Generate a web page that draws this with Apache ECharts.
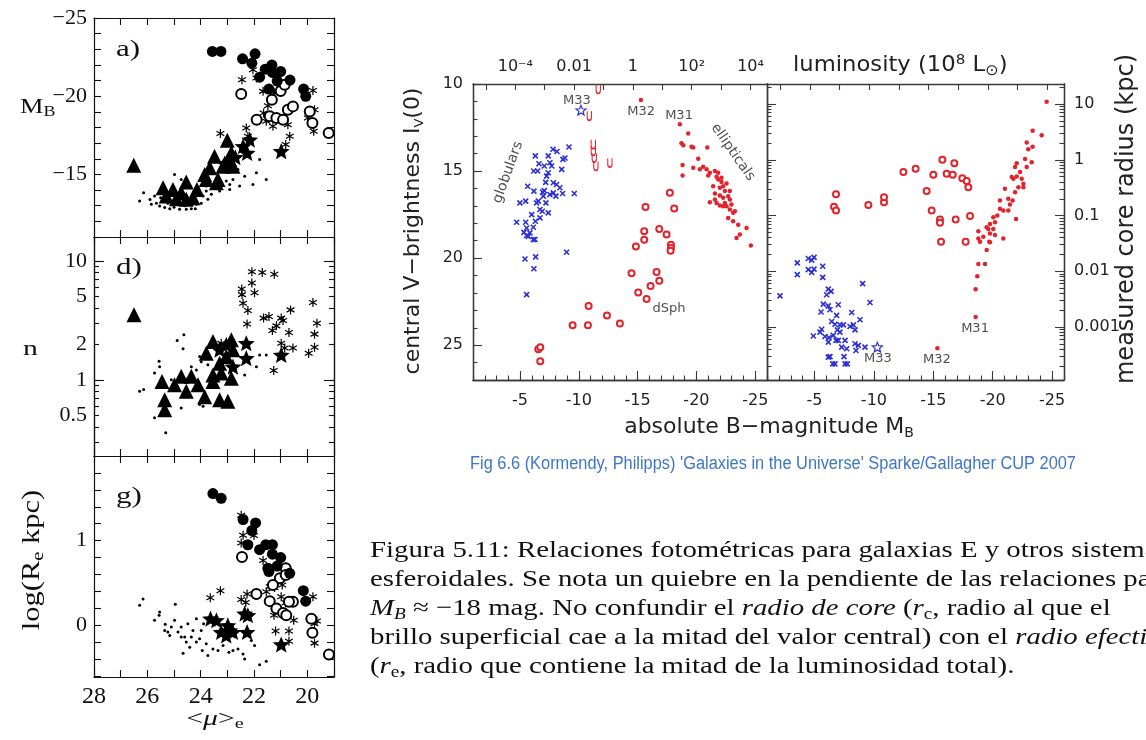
<!DOCTYPE html>
<html>
<head>
<meta charset="utf-8">
<script src="https://cdn.jsdelivr.net/npm/echarts@6.0.0/dist/echarts.min.js"></script>
<style>
html,body{margin:0;padding:0;background:#ffffff;}
#chart{width:1146px;height:740px;}
</style>
</head>
<body>
<div id="chart"></div>
<script>
// ================= LEFT FIGURE: relations vs <mu>_e =================
const muTicks = [19,20,21,22,23,24,25,26,27,28];
const muLabels = [20,22,24,26,28];
const mbTicks = [-25,-24,-23,-22,-21,-20,-19,-18,-17,-16,-15,-14,-13,-12,-11];
const mbLabels = [-25,-20,-15];
const nTicks = [0.3,0.4,0.5,0.6,0.7,0.8,0.9,1,2,3,4,5,6,7,8,9,10];
const nMajor = [1,10];
const nLabels = [0.5,1,2,5,10];
const reTicks = [-0.6,-0.4,-0.2,0,0.2,0.4,0.6,0.8,1,1.2,1.4,1.6,1.8];
const reLabels = [0,1];

// panel a) : [<mu>_e, M_B]
const aFilledCircle = [[23.56,-22.86],[23.24,-22.86],[22.43,-22.39],[21.96,-22.71],[22.08,-22.11],[21.58,-21.73],[21.33,-22.0],[21.31,-21.52],[21.0,-21.58],[21.13,-20.97],[20.65,-21.03],[21.79,-21.22],[21.44,-20.46],[20.14,-20.46],[20.06,-19.99]];
const aOpenCircle = [[22.48,-20.14],[21.9,-18.5],[21.33,-19.78],[21.0,-20.33],[20.85,-20.73],[21.41,-18.72],[21.16,-18.61],[20.91,-18.5],[20.73,-19.14],[20.54,-19.35],[19.91,-19.03],[19.81,-18.29],[19.2,-17.65]];
const aAsterisk = [[22.45,-21.05],[22.04,-21.69],[21.91,-21.16],[21.66,-20.31],[21.48,-19.39],[21.64,-18.93],[21.54,-18.4],[21.29,-18.08],[20.73,-18.18],[20.66,-17.44],[20.81,-16.91],[19.79,-20.37],[19.73,-19.14],[19.98,-18.61],[19.76,-17.76],[23.26,-17.61],[22.29,-17.97],[22.23,-17.44],[22.35,-16.7],[21.23,-20.2]];
const aStar = [[22.41,-16.8],[22.16,-17.23],[22.26,-16.38],[20.98,-16.49],[22.7,-16.1],[23.1,-15.7]];
const aTriangle = [[26.51,-15.59],[23.0,-17.19],[23.85,-15.0],[23.66,-15.42],[23.48,-16.17],[23.35,-14.68],[23.41,-14.47],[23.16,-15.53],[22.91,-15.96],[22.85,-16.38],[22.79,-15.53],[23.79,-14.68],[25.41,-14.15],[25.04,-14.04],[24.54,-14.51],[24.14,-14.04],[25.29,-13.62],[24.91,-13.45],[24.54,-13.41],[24.73,-13.83],[24.29,-13.51]];
const aDot = [[26.29,-13.3],[26.14,-13.83],[25.73,-13.62],[25.66,-13.15],[25.54,-12.98],[25.35,-12.88],[25.16,-12.81],[24.98,-15.0],[24.79,-12.77],[24.54,-12.77],[24.35,-12.81],[24.16,-13.09],[23.98,-13.15],[24.04,-13.83],[23.79,-13.94],[23.6,-13.73],[23.73,-13.41],[23.41,-14.26],[23.04,-14.58],[22.79,-14.68],[22.6,-15.32],[22.29,-16.17],[21.91,-15.11],[21.79,-15.96],[21.54,-14.68],[22.04,-14.36],[22.54,-14.26],[22.35,-14.89],[22.91,-14.36],[24.73,-14.68],[24.41,-14.26],[25.85,-13.09],[25.5,-13.51],[25.23,-13.15],[23.79,-14.26],[23.29,-13.94],[22.91,-14.04],[23.91,-13.62],[25.0,-12.9],[24.6,-13.0],[24.2,-12.8],[25.9,-13.4],[24.9,-13.2]];

// panel d) : [<mu>_e, n]
const dTriangle = [[26.5,3.52],[25.45,0.97],[25.35,0.68],[25.35,0.56],[24.98,0.91],[24.73,1.07],[24.54,0.80],[24.35,1.07],[24.1,0.91],[23.85,0.72],[23.54,1.10],[23.54,2.1],[23.29,0.68],[22.98,0.66],[22.85,2.17],[22.85,1.03],[23.79,1.67],[23.29,1.38],[23.04,1.57],[23.54,0.97],[22.79,1.79],[23.23,1.14]];
const dStar = [[22.29,2.03],[22.29,1.52],[20.98,1.62],[23.04,1.97],[22.79,1.29],[23.29,1.79]];
const dAsterisk = [[22.08,8.1],[21.69,7.96],[21.24,7.7],[22.08,6.5],[22.46,5.8],[21.98,5.4],[22.45,5.2],[22.41,4.4],[22.23,3.83],[22.26,2.94],[21.64,3.3],[21.44,3.4],[20.98,3.3],[20.91,3.15],[21.16,2.84],[21.31,2.6],[20.63,3.87],[20.69,2.5],[20.98,2.03],[20.85,1.85],[20.54,1.85],[19.79,4.47],[19.64,2.99],[19.73,2.42],[19.73,1.88],[19.95,1.67],[21.26,1.2],[23.23,2.03]];
const dDot = [[26.29,0.80],[26.14,0.83],[25.73,0.48],[25.31,0.36],[25.56,1.43],[25.54,1.29],[25.73,1.14],[24.88,2.14],[24.63,2.39],[24.66,1.82],[24.73,0.58],[24.35,1.29],[24.04,1.57],[23.91,0.6],[24.04,0.62],[21.91,1.29],[21.79,1.62],[21.54,1.62],[22.35,1.10],[24.16,1.21],[23.73,1.34],[24.48,1.03],[25.1,1.0],[23.98,1.42]];

// panel g) : [<mu>_e, log(Re/kpc)]
const gFilledCircle = [[23.54,1.556],[23.23,1.5],[22.41,1.25],[21.94,1.21],[22.08,1.12],[22.23,0.952],[21.79,0.893],[21.56,0.952],[21.31,0.952],[21.31,0.841],[21.0,0.80],[21.13,0.70],[21.48,0.675],[21.44,0.635],[20.66,0.615],[20.15,0.409],[20.06,0.286]];
const gOpenCircle = [[22.45,0.806],[21.91,0.369],[21.41,0.286],[21.16,0.198],[20.91,0.147],[20.79,0.119],[20.54,0.278],[20.81,0.675],[21.03,0.556],[21.29,0.476],[19.85,0.079],[19.81,-0.087],[19.19,-0.345],[20.81,0.595],[20.69,0.278]];
const gAsterisk = [[22.48,1.3],[22.41,1.063],[22.0,1.06],[22.48,0.972],[21.66,0.766],[21.41,0.456],[21.23,0.448],[20.94,0.476],[20.98,0.337],[20.81,0.266],[21.25,0.119],[21.19,-0.067],[20.69,-0.067],[20.69,-0.187],[20.51,0.06],[19.79,0.337],[19.73,0.02],[19.64,0.052],[19.73,-0.21],[23.64,0.325],[23.26,0.409],[22.48,0.306],[22.26,0.369],[22.31,0.27],[21.54,0.397]];
const gStar = [[23.63,0.079],[23.41,0.06],[23.23,-0.079],[22.98,0.0],[22.91,-0.06],[22.79,-0.079],[22.35,0.139],[22.23,0.119],[22.26,-0.079],[20.98,-0.226],[23.04,-0.12]];
const gDot = [[26.29,0.238],[26.16,0.31],[25.73,0.06],[25.54,0.159],[25.56,0.119],[25.33,0.012],[25.23,-0.079],[25.1,-0.02],[24.98,0.06],[24.95,0.25],[24.85,-0.079],[24.73,-0.02],[24.66,-0.329],[24.6,-0.139],[24.48,0.02],[24.41,-0.258],[24.29,-0.06],[24.16,0.079],[24.04,-0.159],[23.94,-0.298],[23.79,-0.218],[23.73,-0.357],[23.54,-0.278],[23.35,-0.298],[23.16,-0.238],[22.94,-0.317],[22.79,-0.298],[22.6,-0.278],[22.41,-0.337],[22.35,-0.397],[22.1,-0.179],[21.98,-0.238],[21.54,-0.425],[21.79,-0.464],[24.73,-0.139],[24.54,-0.198],[24.35,-0.139],[25.16,-0.119],[25.35,-0.06],[24.16,-0.198],[23.98,-0.06],[23.89,0.02]];

// ================= RIGHT FIGURE (Kormendy) =================
const mbMajor = [-25,-20,-15,-10,-5];
const mbMinor = [-26,-25,-24,-23,-22,-21,-20,-19,-18,-17,-16,-15,-14,-13,-12,-11,-10,-9,-8,-7,-6,-5,-4,-3,-2,-1];
const lumTicks = [-5,-4,-3,-2,-1,0,1,2,3,4];
const lumLabelPos = [-4,-2,0,2,4];
const lumLabelText = ['10\u207B\u2074','0.01','1','10\u00B2','10\u2074'];
const ivMajor = [10,15,20,25];
const ivMinor = [10,11,12,13,14,15,16,17,18,19,20,21,22,23,24,25,26,27];
const rcMajor = [0.001,0.01,0.1,1,10];

// left panel: [M_B, central V brightness]
const glob1 = [[-4.71,17.94],[-5.48,17.94],[-5.56,18.27],[-5.70,18.75],[-5.33,18.52],[-6.13,18.23],[-6.13,18.94],[-6.30,17.88],[-5.99,17.5],[-6.69,17.21],[-7.40,17.4],[-7.20,16.83],[-6.41,16.83],[-6.98,16.44],[-6.55,16.73],[-6.92,16.21],[-7.06,16.12],[-7.54,16.35],[-7.83,16.25],[-8.05,16.44],[-8.39,15.96],[-8.62,16.29],[-8.11,15.77],[-7.26,15.29],[-7.40,15.1],[-7.06,14.71],[-7.69,14.71],[-7.54,14.52],[-7.40,14.13],[-7.80,13.75],[-8.65,14.33],[-8.82,14.25],[-8.54,14.9],[-6.18,16.15],[-5.65,15.87],[-5.48,16.73],[-4.99,16.83],[-6.30,14.13],[-6.16,15.0],[-6.50,15.0],[-6.61,14.58],[-7.18,15.65],[-7.83,15.67],[-6.69,17.69],[-6.89,17.31],[-8.14,13.88],[-9.16,13.62],[-9.61,16.29],[-5.42,20.05],[-6.33,19.93],[-6.18,20.61],[-5.56,22.1],[-8.96,19.66],[-5.56,18.7],[-5.84,18.55],[-6.27,18.93]];
const sc1U = [[-11.65,10.29],[-10.89,11.83],[-11.23,13.46],[-11.23,13.85],[-11.31,14.23],[-11.45,14.71],[-12.64,14.52]];
const ell1 = [[-18.59,12.31],[-15.28,10.92],[-18.73,13.4],[-18.88,13.52],[-19.3,12.85],[-19.58,13.6],[-19.73,13.65],[-20.92,13.65],[-18.82,14.65],[-18.82,15.25],[-19.73,14.81],[-20.15,14.29],[-20.29,14.9],[-20.57,14.75],[-20.86,14.9],[-21.14,15.1],[-21.0,15.25],[-21.57,15.0],[-21.71,15.33],[-21.85,15.48],[-22.13,15.63],[-22.27,15.87],[-22.42,16.15],[-22.56,15.71],[-21.99,15.96],[-21.42,15.87],[-21.57,16.29],[-21.99,16.4],[-22.27,16.54],[-22.7,16.44],[-21.14,16.79],[-21.71,16.83],[-21.99,16.98],[-22.27,17.02],[-22.84,16.63],[-22.98,16.92],[-23.12,17.4],[-23.27,17.31],[-22.56,17.02],[-22.7,17.69],[-23.12,17.88],[-23.55,18.08],[-23.69,18.65],[-24.26,18.27],[-24.63,19.27],[-23.41,18.85],[-21.85,15.1],[-22.13,15.38],[-22.84,16.15],[-22.42,16.83],[-22.84,17.21],[-21.57,16.63]];
const dsph1 = [[-15.67,17.06],[-18.11,17.15],[-17.74,16.25],[-15.56,18.46],[-15.56,18.94],[-16.84,18.33],[-17.46,18.65],[-14.85,19.33],[-17.83,19.23],[-17.83,19.42],[-17.8,19.58],[-14.48,20.87],[-15.05,21.97],[-15.76,22.35],[-16.1,21.6],[-16.61,20.8],[-16.84,21.3],[-10.83,22.75],[-12.39,23.3],[-9.47,23.86],[-10.77,23.86],[-13.49,23.75],[-6.55,25.23],[-6.72,25.12],[-6.72,25.92]];
const m33a = [[-10.18,11.5]];
const notes1 = [[-9.84,10.98,'M33',0],[-15.29,11.61,'M32',0],[-18.52,11.79,'M31',0],[-3.98,15.07,'globulars',70],[-23.1,13.92,'ellipticals',-55],[-17.67,22.91,'dSph',0]];

// right panel: [M_B, log10(core radius / kpc)]
const glob2 = [[-3.55,-1.85],[-4.48,-1.77],[-4.76,-1.8],[-4.96,-1.75],[-5.69,-1.91],[-2.09,-2.44],[-3.55,-2.06],[-4.48,-1.97],[-4.76,-2.02],[-4.96,-1.96],[-5.69,-2.11],[-6.16,-2.32],[-6.39,-2.36],[-6.02,-2.42],[-5.74,-2.59],[-6.16,-2.62],[-5.55,-2.73],[-6.3,-2.69],[-7.0,-2.6],[-6.86,-2.79],[-6.44,-2.9],[-6.72,-2.95],[-7.14,-2.96],[-6.92,-3.05],[-5.6,-3.04],[-5.46,-3.09],[-4.9,-3.16],[-5.88,-3.17],[-6.22,-3.19],[-6.58,-3.15],[-7.14,-3.09],[-7.43,-2.96],[-7.99,-2.99],[-8.13,-2.74],[-8.27,-2.96],[-8.83,-2.87],[-8.41,-3.05],[-7.0,-3.24],[-7.29,-3.36],[-7.71,-3.39],[-7.57,-3.24],[-8.41,-3.3],[-8.69,-3.33],[-8.49,-3.42],[-9.25,-3.36],[-6.3,-3.53],[-6.16,-3.54],[-6.53,-3.66],[-6.72,-3.66],[-7.57,-3.66],[-7.76,-3.66],[-7.48,-3.53],[-9.05,-2.22],[-9.67,-2.56],[-6.81,-3.24],[-6.16,-3.27]];
const ell2 = [[-24.54,1.04],[-23.36,0.52],[-24.12,0.44],[-22.86,0.31],[-23.36,0.235],[-22.99,0.19],[-22.72,0.015],[-23.28,-0.045],[-22.86,-0.13],[-22.02,-0.06],[-21.88,-0.13],[-21.6,-0.31],[-22.02,-0.3],[-22.44,-0.34],[-22.58,-0.43],[-22.16,-0.49],[-21.88,-0.58],[-21.31,-0.7],[-21.03,-0.52],[-21.68,-0.73],[-21.45,-0.8],[-21.96,-1.06],[-20.89,-0.91],[-20.61,-0.88],[-20.39,-1.0],[-20.05,-1.03],[-19.77,-1.15],[-19.63,-1.24],[-19.49,-1.21],[-19.77,-1.32],[-20.05,-1.24],[-20.89,-1.41],[-19.21,-1.38],[-18.79,-1.28],[-18.79,-1.41],[-18.93,-1.47],[-19.71,-1.47],[-19.49,-1.62],[-18.79,-1.87],[-19.35,-1.87],[-21.74,-0.34],[-22.3,-0.22],[-22.58,-0.49],[-21.31,-0.91],[-20.61,-0.73],[-20.19,-1.12],[-18.7,-2.09],[-18.56,-2.32],[-19.77,-1.48],[-20.19,-1.35],[-18.56,-2.82],[-15.34,-3.38]];
const dsph2 = [[-6.81,-0.62],[-6.64,-0.84],[-6.81,-0.91],[-9.53,-0.81],[-10.85,-0.76],[-10.85,-0.67],[-12.48,-0.22],[-13.51,-0.16],[-15.0,-0.27],[-15.76,0.0],[-16.12,-0.25],[-16.63,-0.27],[-16.77,-0.06],[-17.44,-0.33],[-17.81,-0.38],[-17.95,-0.49],[-14.44,-0.56],[-14.86,-0.91],[-15.56,-1.07],[-15.56,-1.13],[-16.88,-1.07],[-18.09,-1.01],[-15.65,-1.47],[-17.72,-1.47]];
const m33b = [[-10.29,-3.36]];
const notes2 = [[-10.34,-3.57,'M33',0],[-15.31,-3.59,'M32',0],[-18.51,-3.03,'M31',0]];

// ================= build =================
const grids = [], xAxes = [], yAxes = [], series = [];
const addGrid = (l,t,w,h) => { grids.push({left:l,top:t,width:w,height:h}); return grids.length-1; };
const addX = o => { xAxes.push(o); return xAxes.length-1; };
const addY = o => { yAxes.push(o); return yAxes.length-1; };

function ax(gi,pos,min,max,inv,ticks,tickLen,labels,fmt,st){
  const o = {
    type:'value', gridIndex:gi, position:pos, min:min, max:max, inverse:!!inv,
    axisLine:{show:true,onZero:false,lineStyle:{color:st.line,width:st.lw}},
    axisTick:{show:!!ticks,inside:true,length:tickLen,lineStyle:{color:st.line,width:st.tw}},
    axisLabel:{show:!!labels,formatter:fmt,fontFamily:st.font,fontSize:st.fs,color:st.color,margin:st.margin},
    splitLine:{show:false}, minorTick:{show:false}
  };
  if (ticks) o.axisTick.customValues = ticks;
  if (labels) o.axisLabel.customValues = labels;
  return o;
}
const LS = {line:'#111', lw:1.2, tw:1.1, font:'Liberation Serif', fs:22, color:'#111', margin:7};
const RS = {line:'#3a3a3a', lw:1.3, tw:1.1, font:'DejaVu Sans', fs:16, color:'#222', margin:10};
const minus = v => String(v).replace('-', '\u2212');
const lg = a => a.map(v => Math.log10(v));

// ---- left grids
const gA = addGrid(94,18,240,219), gD = addGrid(94,237,240,219), gG = addGrid(94,456,240,221);
const xA = addX(ax(gA,'bottom',19,28,true,muTicks,7,null,null,LS)); addX(ax(gA,'top',19,28,true,muTicks,7,null,null,LS));
const yA = addY(ax(gA,'left',-25,-11,true,mbTicks,7,mbLabels,minus,LS)); addY(ax(gA,'right',-25,-11,true,mbTicks,7,null,null,LS));

const xD = addX(ax(gD,'bottom',19,28,true,muTicks,7,null,null,LS)); addX(ax(gD,'top',19,28,true,muTicks,7,null,null,LS));
const nFmt = v => String(Math.round(Math.pow(10,v)*10)/10);
const yD = addY(ax(gD,'left',-0.64,1.2,false,lg(nTicks),5,lg(nLabels),nFmt,LS));
addY(ax(gD,'left',-0.64,1.2,false,lg(nMajor),10,null,null,LS));
addY(ax(gD,'right',-0.64,1.2,false,lg(nTicks),5,null,null,LS));
addY(ax(gD,'right',-0.64,1.2,false,lg(nMajor),10,null,null,LS));

const xG = addX(ax(gG,'bottom',19,28,true,muTicks,7,muLabels,String,{...LS,fs:24,margin:8})); addX(ax(gG,'top',19,28,true,muTicks,7,null,null,LS));
const yG = addY(ax(gG,'left',-0.61,2.0,false,reTicks,7,reLabels,String,LS)); addY(ax(gG,'right',-0.61,2.0,false,reTicks,7,null,null,LS));

// ---- right grids
const p1 = addGrid(473,84,294,296), p2 = addGrid(767,84,297,296);
const lumFmt = v => lumLabelText[lumLabelPos.indexOf(Math.round(v))] || '';
const rcFmt = v => String(rcMajor[lg(rcMajor).findIndex(t => Math.abs(t-v) < 1e-6)]);
const rcMinorLog = [];
for (let d=-4; d<=1; d++) for (let k=2; k<=9; k++) { const t = d+Math.log10(k); if (t>-3.95 && t<1.36) rcMinorLog.push(t); }

const x1 = addX(ax(p1,'bottom',-26,-1,true,mbMajor,9,mbMajor,String,{...RS,margin:13}));
addX(ax(p1,'bottom',-26,-1,true,mbMinor,4.5,null,null,RS));
addX(ax(p1,'top',-5.44,4.56,false,lumTicks,6,lumLabelPos,lumFmt,{...RS,margin:9}));
const y1 = addY(ax(p1,'left',10,27,true,ivMajor,9,ivMajor,String,RS));
addY(ax(p1,'left',10,27,true,ivMinor,4.5,null,null,RS));
addY(ax(p1,'right',10,27,true,null,0,null,null,RS));

const x2 = addX(ax(p2,'bottom',-26,-1,true,mbMajor,9,mbMajor,String,{...RS,margin:13}));
addX(ax(p2,'bottom',-26,-1,true,mbMinor,4.5,null,null,RS));
addX(ax(p2,'top',-5.44,4.56,false,lumTicks,6,null,null,RS));
const y2 = addY(ax(p2,'right',-3.95,1.36,false,lg(rcMajor),9,lg(rcMajor),rcFmt,RS));
addY(ax(p2,'right',-3.95,1.36,false,rcMinorLog,4.5,null,null,RS));
addY(ax(p2,'left',-3.95,1.36,false,lg(rcMajor),9,null,null,RS));
addY(ax(p2,'left',-3.95,1.36,false,rcMinorLog,4.5,null,null,RS));

// ---- symbols
const STAR = 'path://M0,-1L0.26,-0.36L0.951,-0.309L0.42,0.14L0.588,0.809L0,0.44L-0.588,0.809L-0.42,0.14L-0.951,-0.309L-0.26,-0.36Z';
const ASTER = 'path://M0,-1L0,1M-0.87,-0.5L0.87,0.5M-0.87,0.5L0.87,-0.5';
const XMARK = 'path://M-1,-1L1,1M-1,1L1,-1';
const USYM = 'path://M-1,-1.5L-1,0.3A1,1 0 0 0 1,0.3L1,-1.5';
const sc = (xi,yi,data,sym,size,style,z) => series.push({type:'scatter',xAxisIndex:xi,yAxisIndex:yi,data:data,symbol:sym,symbolSize:size,symbolKeepAspect:true,itemStyle:style,z:z||2,silent:true,animation:false});
const fill = c => ({color:c, opacity:1});
const ring = (c,w) => ({color:c, borderColor:c, borderWidth:w, opacity:1});
const stroke = (c,w) => ({color:'rgba(0,0,0,0)', borderColor:c, borderWidth:w, opacity:1});
const logN = arr => arr.map(p => [p[0], Math.log10(p[1])]);

// panel a
sc(xA,yA,aDot,'circle',3,fill('#000'),1);
sc(xA,yA,aTriangle,'triangle',15,fill('#000'));
sc(xA,yA,aStar,STAR,17,fill('#000'));
sc(xA,yA,aAsterisk,ASTER,9,stroke('#000',1.2));
sc(xA,yA,aOpenCircle,'emptyCircle',10,ring('#000',1.2));
sc(xA,yA,aFilledCircle,'circle',11,fill('#000'));
// panel d
sc(xD,yD,logN(dDot),'circle',3,fill('#000'),1);
sc(xD,yD,logN(dTriangle),'triangle',15,fill('#000'));
sc(xD,yD,logN(dStar),STAR,17,fill('#000'));
sc(xD,yD,logN(dAsterisk),ASTER,9,stroke('#000',1.2));
// panel g
sc(xG,yG,gDot,'circle',3,fill('#000'),1);
sc(xG,yG,gStar,STAR,17,fill('#000'));
sc(xG,yG,gAsterisk,ASTER,9,stroke('#000',1.2));
sc(xG,yG,gOpenCircle,'emptyCircle',10,ring('#000',1.2));
sc(xG,yG,gFilledCircle,'circle',11,fill('#000'));

// right panels
const BLUE = '#2b2fd6', RED = '#e3232b';
sc(x1,y1,glob1,XMARK,5,stroke(BLUE,1.6));
sc(x1,y1,sc1U,USYM,[6,9],stroke(RED,1.3));
sc(x1,y1,ell1,'circle',4.5,fill(RED));
sc(x1,y1,dsph1,'emptyCircle',6,ring(RED,1.2));
sc(x1,y1,m33a,STAR,10,stroke(BLUE,1.2));
sc(x2,y2,glob2,XMARK,5,stroke(BLUE,1.6));
sc(x2,y2,ell2,'circle',4.5,fill(RED));
sc(x2,y2,dsph2,'emptyCircle',6,ring(RED,1.2));
sc(x2,y2,m33b,STAR,10,stroke(BLUE,1.2));

const notes = (xi,yi,arr) => series.push({type:'scatter',xAxisIndex:xi,yAxisIndex:yi,symbol:'circle',symbolSize:0,silent:true,animation:false,z:5,
  data:arr.map(t => ({value:[t[0],t[1]], name:t[2], label:{rotate:t[3], fontSize: t[2].length>4 ? 14 : 13}})),
  label:{show:true,position:'inside',formatter:'{b}',fontFamily:'DejaVu Sans',color:'#222'}});
notes(x1,y1,notes1);
notes(x2,y2,notes2);

// ---- texts
const serif = 'Liberation Serif', sans = 'DejaVu Sans';
const T = (x,y,text,o) => Object.assign({type:'text', x:x, y:y, silent:true, style:Object.assign({text:text, align:'left', verticalAlign:'middle', fill:'#111'}, o.style||{})}, o.el||{});
const subS = (fam,fs,lh,c) => ({fontFamily:fam, fontSize:fs, lineHeight:lh, verticalAlign:'bottom', fill:c});
const supS = (fam,fs,lh,c) => ({fontFamily:fam, fontSize:fs, lineHeight:lh, verticalAlign:'top', fill:c});
const WIDE = {scaleX:1.35};

const graphic = [
  T(116,50,'a)',{style:{fontFamily:serif,fontSize:23},el:WIDE}),
  T(116,268,'d)',{style:{fontFamily:serif,fontSize:23},el:WIDE}),
  T(116,497,'g)',{style:{fontFamily:serif,fontSize:23},el:WIDE}),
  T(20,107,'M{s|B}',{style:{fontFamily:serif,fontSize:22,lineHeight:26,rich:{s:subS(serif,15,16,'#111')}},el:{scaleX:1.2}}),
  T(23,349,'n',{style:{fontFamily:serif,fontSize:22},el:WIDE}),
  T(32,560,'log(R{s|e} kpc)',{style:{fontFamily:serif,fontSize:25,lineHeight:30,align:'center',rich:{s:subS(serif,17,18,'#111')}},el:{rotation:Math.PI/2,scaleX:1.22}}),
  T(215,719,'<{i|\u03BC}>{s|e}',{style:{fontFamily:serif,fontSize:22,lineHeight:26,align:'center',rich:{i:{fontFamily:serif,fontStyle:'italic',fontSize:22},s:subS(serif,15,14,'#111')}},el:WIDE}),

  T(413,231,'central V\u2212brightness I{s|V}(0)',{style:{fontFamily:sans,fontSize:22,lineHeight:26,align:'center',fill:'#222',rich:{s:subS(sans,13,16,'#222')}},el:{rotation:Math.PI/2}}),
  T(769,427,'absolute B\u2212magnitude M{s|B}',{style:{fontFamily:sans,fontSize:22,lineHeight:26,align:'center',fill:'#222',rich:{s:subS(sans,14,16,'#222')}}}),
  T(793,66,'luminosity (10{p|8} L{s|\u2299})',{style:{fontFamily:sans,fontSize:21,lineHeight:26,fill:'#222',rich:{p:supS(sans,14,16,'#222'),s:subS(sans,15,17,'#222')}},el:{scaleX:1.08}}),
  T(1127,219,'measured core radius (kpc)',{style:{fontFamily:sans,fontSize:24,align:'center',fill:'#222'},el:{rotation:Math.PI/2}}),
  T(773,464,"Fig 6.6 (Kormendy, Philipps) 'Galaxies in the Universe' Sparke/Gallagher CUP 2007",{style:{fontFamily:'Liberation Sans',fontSize:18,align:'center',fill:'#3c76c8'},el:{scaleX:0.91}})
];
const capRich = {
  i:{fontFamily:serif,fontStyle:'italic',fontSize:24,fill:'#111'},
  s:subS(serif,16,20,'#111'),
  is:{fontFamily:serif,fontStyle:'italic',fontSize:16,lineHeight:20,verticalAlign:'bottom',fill:'#111'}
};
const capLines = [
  'Figura 5.11: Relaciones fotom\u00E9tricas para galaxias E y otros sistemas',
  'esferoidales. Se nota un quiebre en la pendiente de las relaciones para',
  '{i|M}{is|B} \u2248 \u221218 mag. No confundir el {i|radio de core} ({i|r}{s|c}, radio al que el',
  'brillo superficial cae a la mitad del valor central) con el {i|radio efectivo}',
  '({i|r}{s|e}, radio que contiene la mitad de la luminosidad total).'
];
capLines.forEach((t,k) => graphic.push(T(370,551+k*29,t,{style:{fontFamily:serif,fontSize:24,lineHeight:28,rich:capRich},el:{scaleX:1.2}})));

const chart = echarts.init(document.getElementById('chart'), null, {renderer:'canvas'});
chart.setOption({
  backgroundColor:'#ffffff',
  animation:false,
  grid:grids, xAxis:xAxes, yAxis:yAxes, series:series, graphic:graphic
});
</script>
</body>
</html>
